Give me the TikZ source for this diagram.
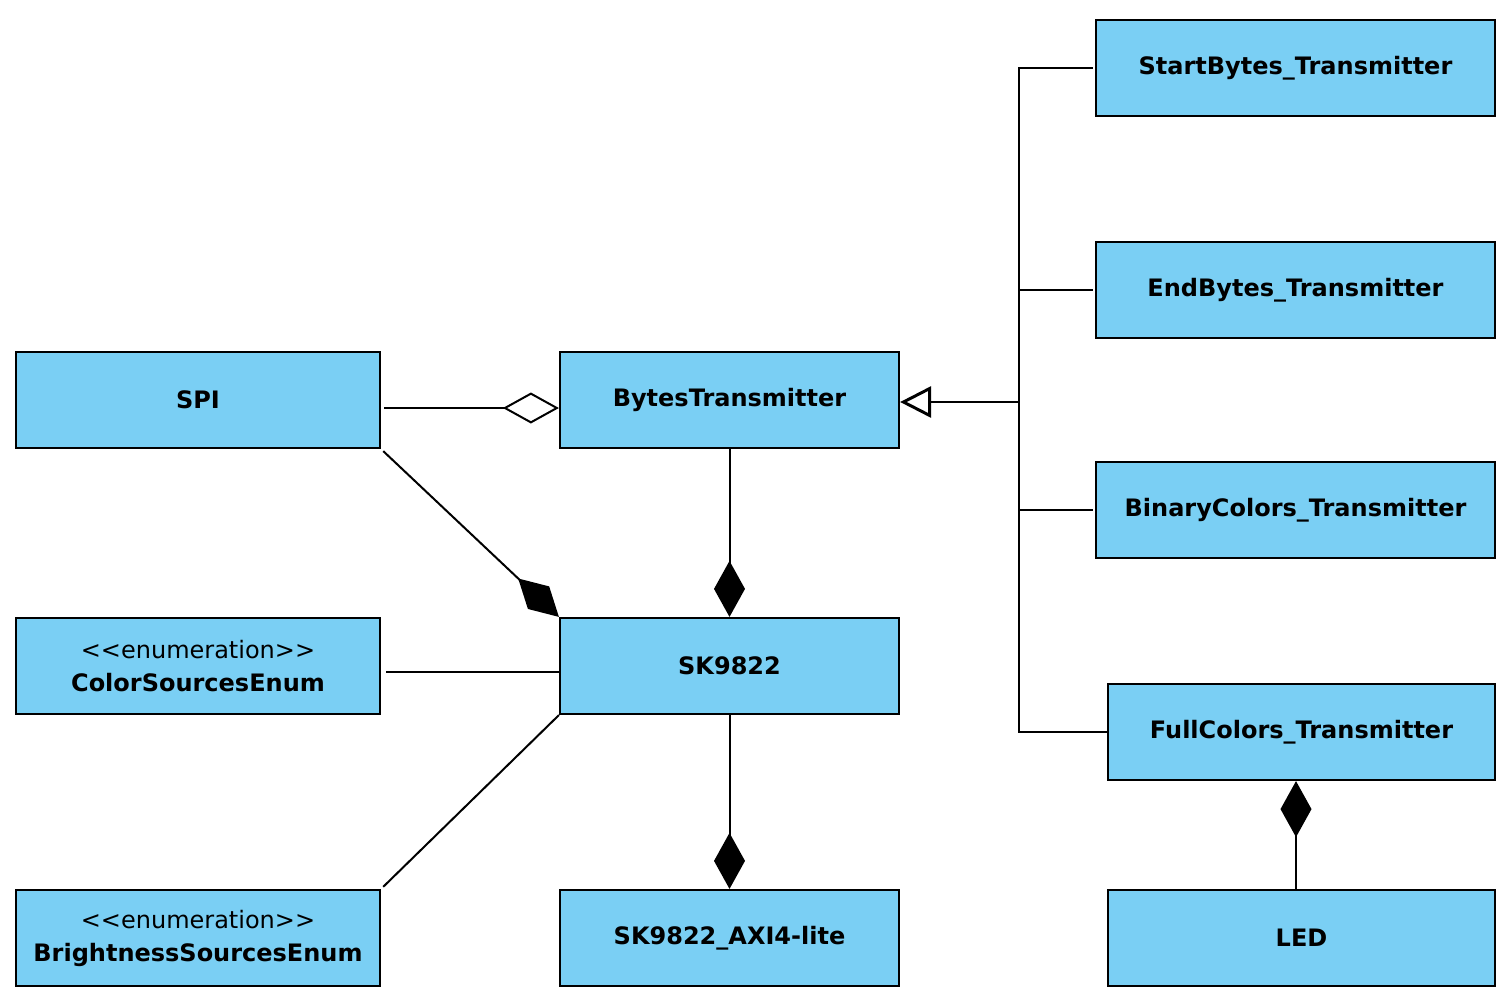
\documentclass[tikz,border=0pt]{standalone}
\usepackage{fontspec}
\setmainfont{DejaVu Sans}
\usetikzlibrary{arrows.meta}

\definecolor{classfill}{HTML}{7ACFF4}

\tikzset{
  classbox/.style={draw=black, line width=2.2pt, fill=classfill, rectangle,
    minimum height=96pt, align=center, inner sep=0pt,
    font=\fontsize{24}{33}\selectfont\bfseries},
  link/.style={draw=black, line width=2pt},
  aggregation/.style={link, -{Diamond[open, length=56pt, width=31pt, line width=2pt]}},
  composition/.style={link, -{Diamond[length=56pt, width=31pt]}},
  inheritance/.style={link, -{Triangle[open, length=31pt, width=31pt, line width=3pt]}},
}

\begin{document}
\begin{tikzpicture}[x=1pt, y=-1pt]
  \useasboundingbox (0,0) rectangle (1512,998);

  % classes
  \node[classbox, minimum width=364pt] (spi) at (198,400) {SPI};
  \node[classbox, minimum width=339pt] (bt)  at (729.5,400) {BytesTransmitter};
  \node[classbox, minimum width=399pt] (sb)  at (1295.5,68) {StartBytes\_Transmitter};
  \node[classbox, minimum width=399pt] (eb)  at (1295.5,290) {EndBytes\_Transmitter};
  \node[classbox, minimum width=399pt] (bc)  at (1295.5,510) {BinaryColors\_Transmitter};
  \node[classbox, minimum width=387pt] (fc)  at (1301.5,732) {FullColors\_Transmitter};
  \node[classbox, minimum width=387pt] (led) at (1301.5,938) {LED};
  \node[classbox, minimum width=364pt] (cse) at (198,666)
    {{\mdseries <{}<enumeration>{}>}\\ColorSourcesEnum};
  \node[classbox, minimum width=339pt] (sk)  at (729.5,666) {SK9822};
  \node[classbox, minimum width=364pt] (bse) at (198,938)
    {{\mdseries <{}<enumeration>{}>}\\BrightnessSourcesEnum};
  \node[classbox, minimum width=339pt] (axi) at (729.5,938) {SK9822\_AXI4-lite};

  % associations
  \draw[aggregation, shorten <=3pt] ([yshift=-8pt]spi.east) -- ([yshift=-8pt]bt.west);
  \draw[composition] (bt.south) -- (sk.north);
  \draw[composition, shorten <=3pt] (spi.south east) -- (sk.north west);
  \draw[link, shorten <=5pt] ([yshift=-6pt]cse.east) -- ([yshift=-6pt]sk.west);
  \draw[link, shorten >=3pt] (sk.south west) -- (bse.north east);
  \draw[composition] (sk.south) -- (axi.north);
  \draw[composition] ([xshift=-5.5pt]led.north) -- ([xshift=-5.5pt]fc.south);

  % generalization tree
  \coordinate (hub) at (1019,402);
  \draw[inheritance] (hub) -- ([yshift=-2pt]bt.east);
  \draw[link, shorten >=2pt] (hub) |- (sb.west);
  \draw[link, shorten >=2pt] (hub) |- (eb.west);
  \draw[link, shorten >=2pt] (hub) |- (bc.west);
  \draw[link] (hub) |- (fc.west);
\end{tikzpicture}
\end{document}
